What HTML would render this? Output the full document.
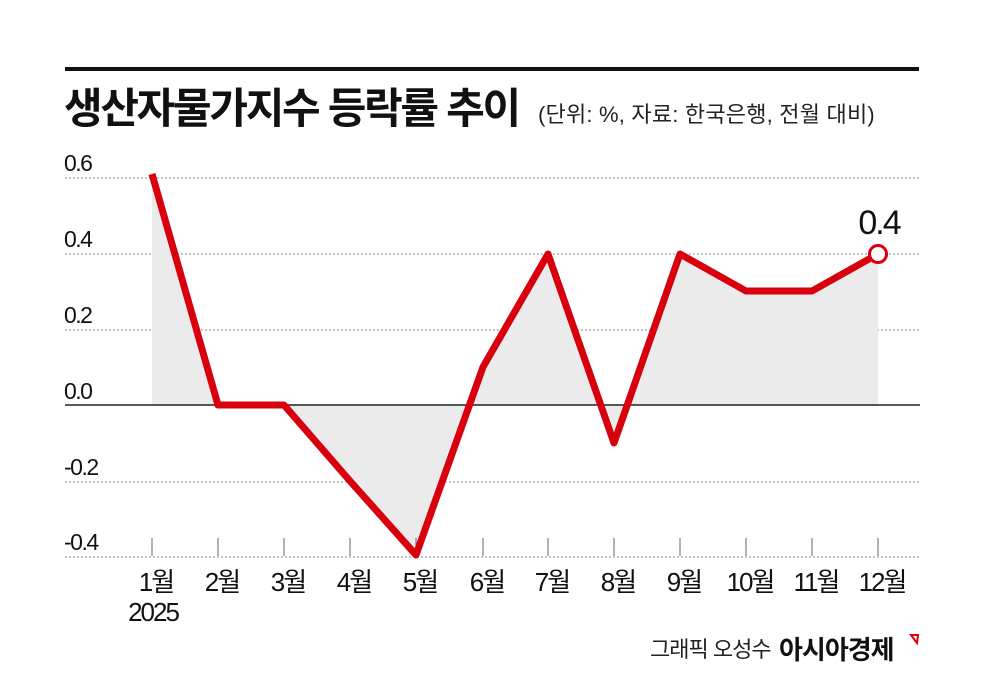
<!DOCTYPE html>
<html><head><meta charset="utf-8"><style>
body{margin:0;background:#fff;}
svg text{font-family:"Liberation Sans","Noto Sans CJK KR",sans-serif;}
</style></head><body>
<svg width="984" height="681" viewBox="0 0 984 681" xmlns="http://www.w3.org/2000/svg">
<rect width="984" height="681" fill="#fff"/>
<rect x="65" y="67" width="854" height="4" fill="#111"/>
<text x="64" y="123" font-size="42" font-weight="bold" fill="#111" letter-spacing="-2.3">생산자물가지수 등락률 추이</text>
<text x="538" y="122" font-size="22" fill="#222" letter-spacing="0.2">(단위: %, 자료: 한국은행, 전월 대비)</text>
<g stroke="#888" stroke-width="1" stroke-dasharray="2,2">
<line x1="65" y1="178" x2="920" y2="178"/>
<line x1="65" y1="254" x2="920" y2="254"/>
<line x1="65" y1="330" x2="920" y2="330"/>
<line x1="65" y1="482" x2="920" y2="482"/>
<line x1="65" y1="557" x2="920" y2="557"/>
</g>
<g font-size="23" fill="#111" letter-spacing="-1.5">
<text x="64" y="171">0.6</text>
<text x="64" y="247">0.4</text>
<text x="64" y="323">0.2</text>
<text x="64" y="399">0.0</text>
<text x="64" y="475">-0.2</text>
<text x="64" y="550">-0.4</text>
</g>
<polygon points="152,405 152,177 218,405 284,405 350,481 416,557 483,367 548,254 614,443 680,254 746,291 812,291 878,254 878,405" fill="#ebebeb"/>
<line x1="65" y1="405" x2="920" y2="405" stroke="#222" stroke-width="1.5"/>
<g stroke="#666" stroke-width="1">
<line x1="152" y1="538" x2="152" y2="556"/><line x1="218" y1="538" x2="218" y2="556"/><line x1="284" y1="538" x2="284" y2="556"/><line x1="350" y1="538" x2="350" y2="556"/><line x1="416" y1="538" x2="416" y2="556"/><line x1="483" y1="538" x2="483" y2="556"/><line x1="548" y1="538" x2="548" y2="556"/><line x1="614" y1="538" x2="614" y2="556"/><line x1="680" y1="538" x2="680" y2="556"/><line x1="746" y1="538" x2="746" y2="556"/><line x1="812" y1="538" x2="812" y2="556"/><line x1="878" y1="538" x2="878" y2="556"/>
</g>
<polyline points="152,174 218,405 284,405 350,481 416,555 483,367 548,254 614,443 680,254 746,291 812,291 878,254" fill="none" stroke="#d9000e" stroke-width="7" stroke-linejoin="round"/>
<circle cx="878" cy="254" r="8.5" fill="#fff" stroke="#d9000e" stroke-width="3"/>
<text x="879" y="234" font-size="34" text-anchor="middle" fill="#111" letter-spacing="-2">0.4</text>
<g font-size="26" fill="#111" text-anchor="middle" letter-spacing="-2">
<text x="156" y="591">1월</text><text x="222" y="591">2월</text><text x="288" y="591">3월</text><text x="354" y="591">4월</text><text x="420" y="591">5월</text><text x="487" y="591">6월</text><text x="552" y="591">7월</text><text x="618" y="591">8월</text><text x="684" y="591">9월</text><text x="750" y="591">10월</text><text x="816" y="591">11월</text><text x="882" y="591">12월</text>
<text x="153" y="621">2025</text>
</g>
<text x="650" y="657" font-size="22" fill="#222" letter-spacing="-1">그래픽 오성수</text>
<text x="779" y="659" font-size="26" font-weight="bold" fill="#111" letter-spacing="-1">아시아경제</text>
<path d="M911 635 L918 635 L917 643 Z" fill="none" stroke="#d9000e" stroke-width="2"/>
</svg>
</body></html>
